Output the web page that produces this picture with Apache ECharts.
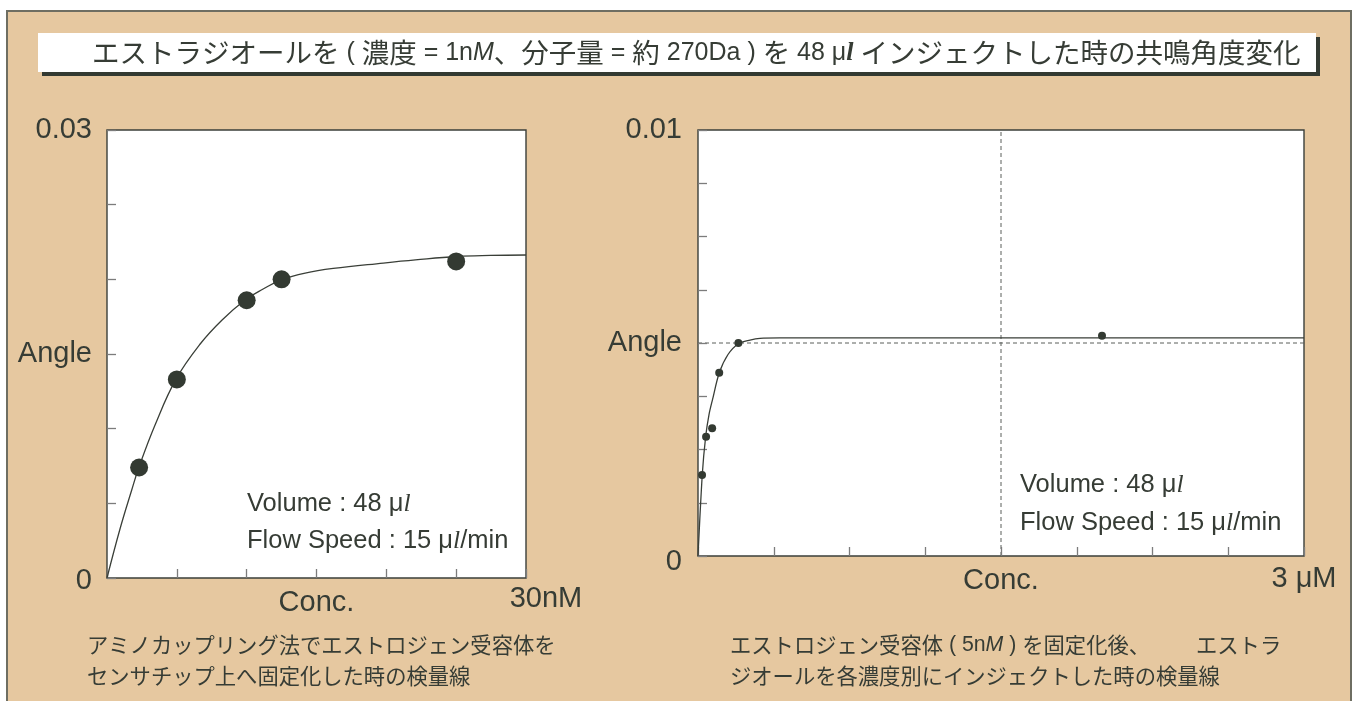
<!DOCTYPE html>
<html>
<head>
<meta charset="utf-8">
<script src="https://cdn.jsdelivr.net/npm/echarts@6/dist/echarts.min.js"></script>
<style>
  html, body { margin: 0; padding: 0; background: #ffffff; }
  #chart { width: 1357px; height: 701px; }
</style>
</head>
<body>
<div id="chart"></div>
<script>
// Receptor immobilised by amine coupling: injected concentration (nM) vs resonance angle
const leftConc = [2.3, 5, 10, 12.5, 25];
const leftAngle = [0.0074, 0.0133, 0.0186, 0.0200, 0.0212];
// fitted saturation curve, read as a set of points
const leftFitConc = [0, 0.93, 1.77, 2.29, 3.44, 4.95, 6.67, 8.24, 9.89, 11.18, 12.47, 14.19, 16.2, 19.79, 22.08, 25.02, 27.46, 30];
const leftFitAngle = [0, 0.00328, 0.00589, 0.00743, 0.01025, 0.01333, 0.01567, 0.01728, 0.01862, 0.01935, 0.01996, 0.02042, 0.02073, 0.02109, 0.0213, 0.02153, 0.0216, 0.02163];

// Receptor (5nM) immobilised, estradiol injected at each concentration (μM)
const rightConc = [0.02, 0.04, 0.07, 0.105, 0.2, 2.0];
const rightAngle = [0.0019, 0.0028, 0.0030, 0.0043, 0.0050, 0.00517];
const rightFitConc = [0, 0.0213, 0.0381, 0.0545, 0.0718, 0.1054, 0.1485, 0.2015, 0.2574, 0.3069, 0.4059, 3];
const rightFitAngle = [0, 0.00192, 0.00281, 0.00332, 0.00367, 0.0043, 0.00473, 0.00499, 0.00507, 0.00511, 0.00512, 0.00512];
// dashed reference lines on the right panel
const rightRefConc = 1.5;
const rightRefAngle = 0.005;

// tick labels: [value, text]
const leftXLabels = [[15, 'Conc.'], [30, '30nM']];
const leftYLabels = [[0, '0'], [0.015, 'Angle'], [0.03, '0.03']];
const rightXLabels = [[1.5, 'Conc.'], [3, '3 μM']];
const rightYLabels = [[0, '0'], [0.005, 'Angle'], [0.01, '0.01']];

const INK = '#363c35';
const TAN = '#e6c8a0';
const SANS = '"Liberation Sans", Arial, "Noto Sans CJK JP", sans-serif';
const CJK = '"Noto Sans CJK JP", "Liberation Sans", sans-serif';

function near(a, b) { return Math.abs(a - b) < 1e-9 * Math.max(1, Math.abs(b)) + 1e-12; }

function labelFor(list, style) {
  return function (v) {
    for (const [val, txt] of list) {
      if (near(v, val)) return style ? style(val, txt) : txt;
    }
    return '';
  };
}

function pairs(xs, ys) { return xs.map((x, i) => [x, ys[i]]); }

const tickStyle = { show: true, inside: true, length: 9, lineStyle: { color: '#7c7c7c', width: 1.3 } };
const LABEL_SIZE = 29;
const baseLabel = { color: INK, fontFamily: SANS, fontSize: LABEL_SIZE, showMinLabel: true, showMaxLabel: true };
function tok(extra) { return Object.assign({ fontSize: LABEL_SIZE, color: INK, fontFamily: SANS }, extra); }

const lXMax = leftXLabels[leftXLabels.length - 1][0];
const rXMax = rightXLabels[rightXLabels.length - 1][0];

const chart = echarts.init(document.getElementById('chart'), null, { renderer: 'canvas' });

const italicL = { fontFamily: '"Liberation Serif", "DejaVu Serif", serif', fontStyle: 'italic' };

// heading: CJK runs at the base size, Latin runs a little smaller
const T_CJK = 27.5, T_LAT = 25;
const headingRich = {
  a: { fontSize: T_LAT, fontFamily: SANS, fill: INK },
  m: { fontSize: T_LAT, fontFamily: SANS, fontStyle: 'italic', fill: INK },
  l: Object.assign({ fontSize: T_LAT + 1, fill: INK, fontWeight: 'bold' }, italicL)
};
const headingText = 'エストラジオールを{a| ( }濃度{a| = 1n}{m|M}、分子量{a| = }約{a| 270Da ) }を{a| 48 μ}{l|l}{a| }インジェクトした時の共鳴角度変化';

const NOTE_SIZE = 25.5;
const noteRich = { l: Object.assign({ fontSize: NOTE_SIZE, fill: INK }, italicL) };
function note(x, y, text) {
  return { type: 'text', z: 10, x: x, y: y,
    style: { text: text, font: NOTE_SIZE + 'px ' + SANS, fill: INK, verticalAlign: 'middle', rich: noteRich } };
}
const CAP_SIZE = 21.3;
function caption(x, y, text, rich) {
  return { type: 'text', z: 10, x: x, y: y,
    style: { text: text, font: CAP_SIZE + 'px ' + CJK, fill: INK, verticalAlign: 'middle', rich: rich || {} } };
}

chart.setOption({
  animation: false,
  backgroundColor: '#ffffff',
  grid: [
    { left: 107, top: 130, width: 419, height: 448, show: true, backgroundColor: '#ffffff',
      borderColor: '#3b3f3a', borderWidth: 1.4, z: 0 },
    { left: 698, top: 130, width: 606, height: 426, show: true, backgroundColor: '#ffffff',
      borderColor: '#3b3f3a', borderWidth: 1.4, z: 0 }
  ],
  xAxis: [
    { gridIndex: 0, type: 'value', min: 0, max: 30, interval: 5, z: 3,
      axisLine: { show: false }, axisTick: tickStyle, splitLine: { show: false },
      axisLabel: Object.assign({}, baseLabel, {
        margin: 6,
        formatter: labelFor(leftXLabels, (v, t) => v === lXMax ? '{e|' + t + '}' : '{c|' + t + '}'),
        rich: { c: tok({ padding: [4, 0, 0, 0] }), e: tok({ padding: [0, 0, 0, 40] }) }
      }) },
    { gridIndex: 1, type: 'value', min: 0, max: 3, interval: 0.375, z: 3,
      axisLine: { show: false }, axisTick: tickStyle, splitLine: { show: false },
      axisLabel: Object.assign({}, baseLabel, {
        margin: 6,
        formatter: labelFor(rightXLabels, (v, t) => v === rXMax ? '{e|' + t + '}' : '{c|' + t + '}'),
        rich: { c: tok({ padding: [4, 0, 0, 0] }), e: tok({ padding: [2, 0, 0, 0] }) }
      }) }
  ],
  yAxis: [
    { gridIndex: 0, type: 'value', min: 0, max: 0.03, interval: 0.005, z: 3,
      axisLine: { show: false }, axisTick: tickStyle, splitLine: { show: false },
      axisLabel: Object.assign({}, baseLabel, {
        margin: 15,
        formatter: labelFor(leftYLabels, (v, t) => v === 0 ? '{z|' + t + '}' : t),
        rich: { z: tok({ padding: [6, 0, 0, 0] }) }
      }) },
    { gridIndex: 1, type: 'value', min: 0, max: 0.01, interval: 0.00125, z: 3,
      axisLine: { show: false }, axisTick: tickStyle, splitLine: { show: false },
      axisLabel: Object.assign({}, baseLabel, {
        margin: 16,
        formatter: labelFor(rightYLabels, (v, t) => v === 0 ? '{z|' + t + '}' : t),
        rich: { z: tok({ padding: [12, 0, 0, 0] }) }
      }) }
  ],
  series: [
    { type: 'line', xAxisIndex: 0, yAxisIndex: 0, data: pairs(leftFitConc, leftFitAngle),
      smooth: 0.4, showSymbol: false, silent: true,
      lineStyle: { color: '#3a3f38', width: 1.3 }, z: 3 },
    { type: 'scatter', xAxisIndex: 0, yAxisIndex: 0, data: pairs(leftConc, leftAngle),
      symbolSize: 18, itemStyle: { color: '#333a32', opacity: 1 }, z: 4 },
    // dashed reference lines
    { type: 'line', xAxisIndex: 1, yAxisIndex: 1, data: [[rightRefConc, 0], [rightRefConc, 0.01]],
      showSymbol: false, silent: true, lineStyle: { color: '#5a5f5a', width: 1, type: [4, 3] }, z: 2 },
    { type: 'line', xAxisIndex: 1, yAxisIndex: 1, data: [[0, rightRefAngle], [3, rightRefAngle]],
      showSymbol: false, silent: true, lineStyle: { color: '#5a5f5a', width: 1, type: [4, 3] }, z: 2 },
    { type: 'line', xAxisIndex: 1, yAxisIndex: 1, data: pairs(rightFitConc, rightFitAngle),
      smooth: 0.3, showSymbol: false, silent: true,
      lineStyle: { color: '#3a3f38', width: 1.3 }, z: 3 },
    { type: 'scatter', xAxisIndex: 1, yAxisIndex: 1, data: pairs(rightConc, rightAngle),
      symbolSize: 8, itemStyle: { color: '#333a32', opacity: 1 }, z: 4 }
  ],
  graphic: [
    // outer panel
    { type: 'rect', z: -10, shape: { x: 7, y: 11, width: 1344, height: 720 },
      style: { fill: TAN, stroke: '#6e6e62', lineWidth: 2 } },
    // heading box with drop shadow
    { type: 'rect', z: -9, shape: { x: 42, y: 37, width: 1278, height: 39 }, style: { fill: '#333a32' } },
    { type: 'rect', z: -8, shape: { x: 38, y: 33, width: 1278, height: 39 }, style: { fill: '#ffffff' } },
    { type: 'text', z: 10, x: 92, y: 53,
      style: { text: headingText, font: T_CJK + 'px ' + CJK, fill: INK, verticalAlign: 'middle', rich: headingRich } },
    // run conditions
    note(247, 504, 'Volume : 48 μ{l|l}'),
    note(247, 541, 'Flow Speed : 15 μ{l|l}/min'),
    note(1020, 485, 'Volume : 48 μ{l|l}'),
    note(1020, 523, 'Flow Speed : 15 μ{l|l}/min'),
    // captions
    caption(87, 645, 'アミノカップリング法でエストロジェン受容体を'),
    caption(87, 676, 'センサチップ上へ固定化した時の検量線'),
    caption(730, 645, 'エストロジェン受容体{a| ( 5n}{m|M}{a| ) }を固定化後、', {
      a: { fontSize: CAP_SIZE, fontFamily: SANS, fill: INK },
      m: { fontSize: CAP_SIZE, fontFamily: SANS, fontStyle: 'italic', fill: INK }
    }),
    caption(1196, 645, 'エストラ'),
    caption(730, 676, 'ジオールを各濃度別にインジェクトした時の検量線')
  ]
});
</script>
</body>
</html>
